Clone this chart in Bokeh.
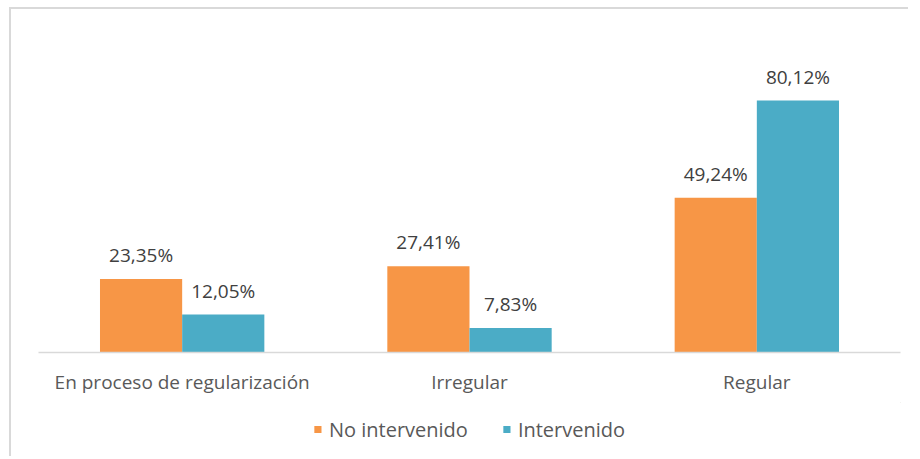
from bokeh.plotting import figure
from bokeh.models import ColumnDataSource, LabelSet, Legend, LegendItem, Range1d, FactorRange
from bokeh.core.properties import value
from bokeh.transform import dodge
from bokeh.layouts import column
from bokeh.embed import file_html
from bokeh.resources import INLINE

categories = ["En proceso de regularización", "Irregular", "Regular"]
no_intervenido = [23.35, 27.41, 49.24]
intervenido = [12.05, 7.83, 80.12]
series_names = ["No intervenido", "Intervenido"]
colors = ["#F79646", "#4BACC6"]

def fmt(v):
    return f"{v:.2f}".replace(".", ",") + "%"

src = ColumnDataSource(dict(
    cat=categories,
    a=no_intervenido,
    b=intervenido,
    la=[fmt(v) for v in no_intervenido],
    lb=[fmt(v) for v in intervenido],
))

FONT = "Open Sans"

p = figure(frame_width=862, frame_height=322, x_range=FactorRange(*categories, range_padding=0),
           y_range=Range1d(0, 102.4), output_backend="svg", toolbar_location=None,
           min_border_left=27, min_border_right=8, min_border_top=21, min_border_bottom=50)

w = 0.286
ra = p.vbar(x=dodge("cat", -w / 2, range=p.x_range), top="a", width=w, source=src,
            fill_color=colors[0], line_color=None)
rb = p.vbar(x=dodge("cat", w / 2, range=p.x_range), top="b", width=w, source=src,
            fill_color=colors[1], line_color=None)

for col, lab, off in (("a", "la", -w / 2), ("b", "lb", w / 2)):
    ls = LabelSet(x=dodge("cat", off, range=p.x_range), y=col, text=lab, source=src,
                  text_align="center", text_baseline="alphabetic", y_offset=17,
                  text_font=value(FONT), text_font_size=value("19px"), text_color="#404040")
    p.add_layout(ls)

p.yaxis.visible = False
p.xaxis.axis_line_color = "#d9d9d9"
p.xaxis.axis_line_width = 1.5
p.xaxis.major_tick_line_color = None
p.xaxis.minor_tick_line_color = None
p.xaxis.major_label_text_font = FONT
p.xaxis.major_label_text_font_size = "19px"
p.xaxis.major_label_text_color = "#595959"
p.xaxis.major_label_standoff = 10
p.xgrid.visible = False
p.ygrid.visible = False
p.outline_line_color = None

# legend strip (its swatches sit outside the visible range; only the legend shows)
q = figure(frame_width=862, frame_height=54, x_range=Range1d(0, 1), y_range=Range1d(0, 1),
           output_backend="svg", toolbar_location=None,
           min_border_left=27, min_border_right=8, min_border_top=0, min_border_bottom=0)
q.axis.visible = False
q.grid.visible = False
q.outline_line_color = None
la = q.vbar(x=[5], top=[5], bottom=[4], width=0.1, fill_color=colors[0], line_color=None)
lb = q.vbar(x=[5], top=[5], bottom=[4], width=0.1, fill_color=colors[1], line_color=None)
legend = Legend(items=[LegendItem(label=series_names[0], renderers=[la]),
                       LegendItem(label=series_names[1], renderers=[lb])],
                orientation="horizontal", location="center",
                label_text_font=FONT, label_text_font_size="20px", label_text_color="#595959",
                glyph_width=9, glyph_height=9, spacing=34, label_standoff=7,
                border_line_color=None, background_fill_alpha=0, padding=0, margin=0)
q.add_layout(legend, "center")

layout = column(p, q, spacing=0)
layout.styles = {"border-left": "2px solid #d9d9d9", "border-top": "2px solid #d9d9d9",
                 "margin-left": "9px", "margin-top": "7px"}

open("out.html", "w").write(file_html(layout, INLINE))
